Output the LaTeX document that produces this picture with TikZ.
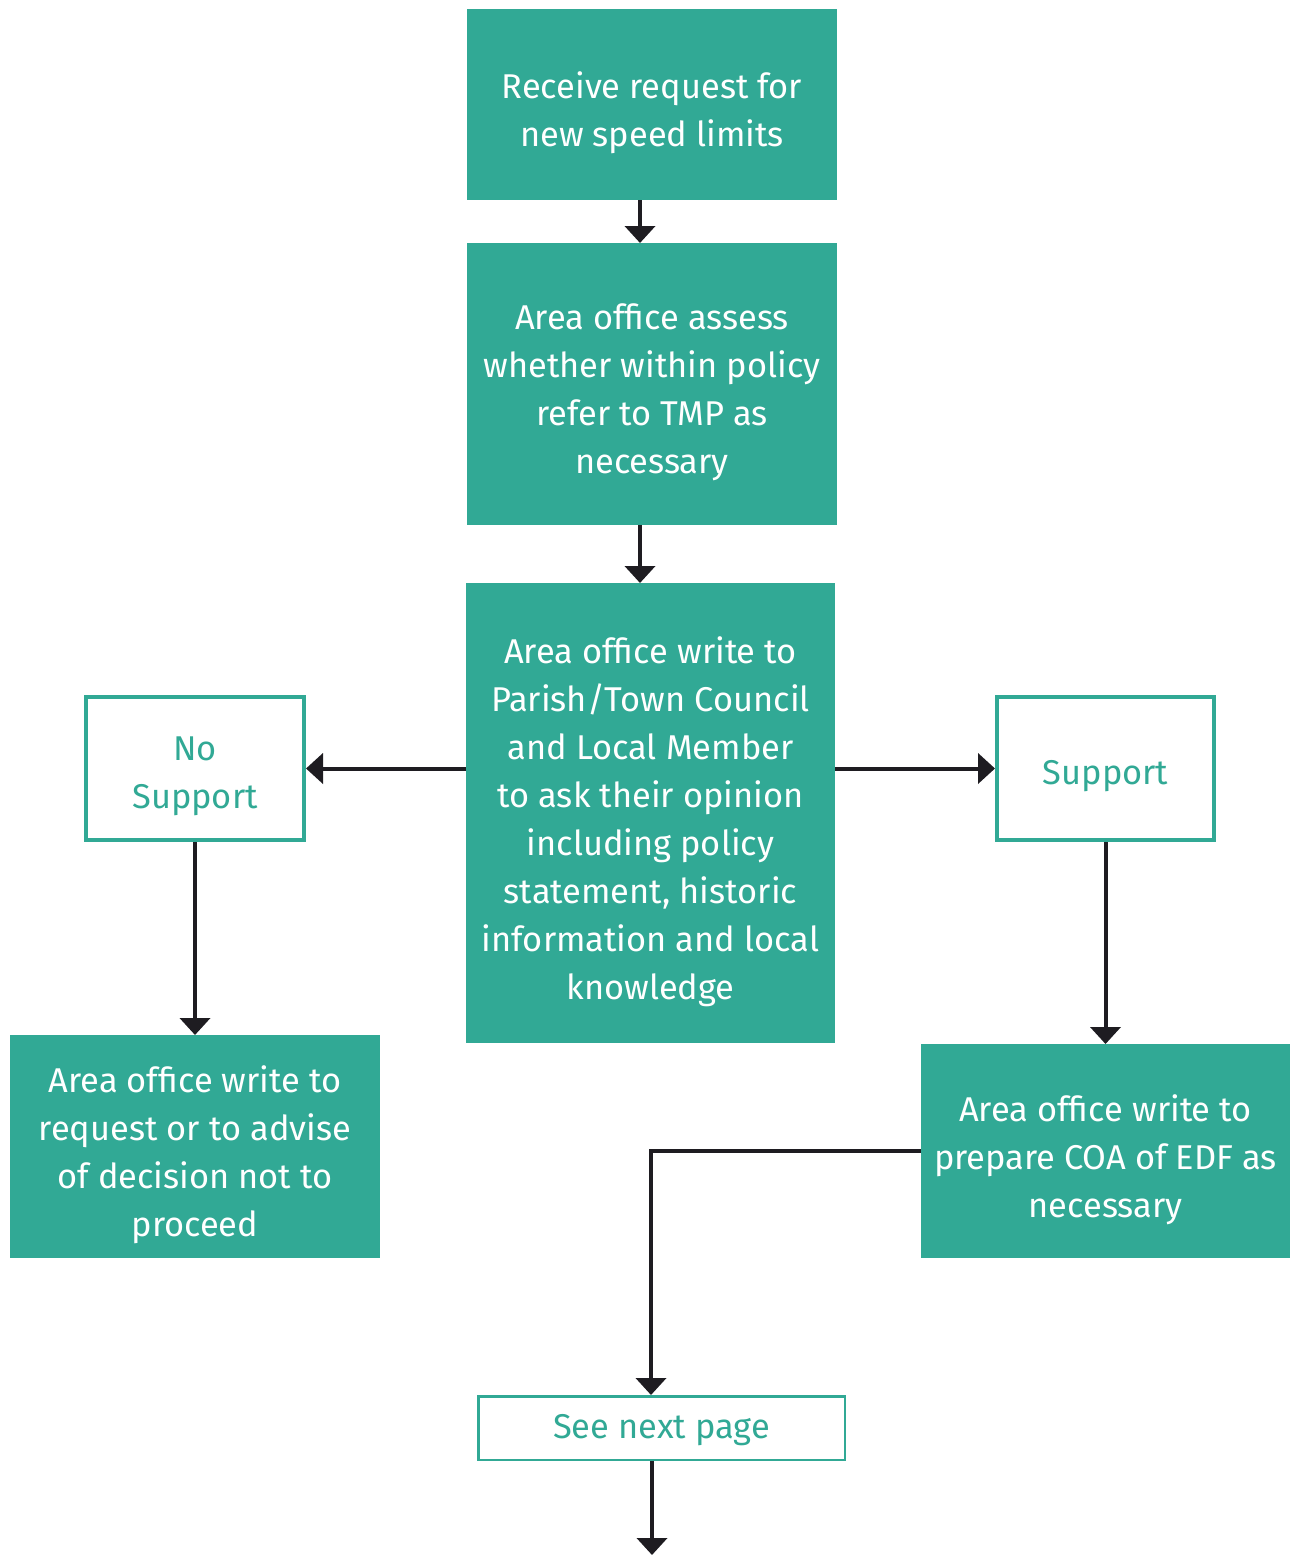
\documentclass[tikz,border=0pt]{standalone}
\usepackage{fontspec}
\setmainfont{Fira Sans}
\usetikzlibrary{arrows.meta}
\definecolor{teal}{HTML}{31A995}
\definecolor{ink}{HTML}{1E1C21}
\tikzset{
  txt/.style={font=\fontsize{34.4}{48}\selectfont, align=center, inner sep=0pt},
  solidbox/.style={fill=teal, draw=none, inner sep=0pt, outer sep=0pt},
  openbox/.style={draw=teal, line width=4pt, fill=white, inner sep=0pt, outer sep=2pt},
  thinbox/.style={draw=teal, line width=2.5pt, fill=white, inner sep=0pt, outer sep=1.25pt},
  wtext/.style={label={[txt, text=white, yshift=-8.5pt]center:#1}},
  ttext/.style={label={[txt, text=teal, yshift=-8pt]center:#1}},
  arr/.style={draw=ink, line width=4pt, -{Triangle[length=17pt,width=30pt]}}
}
\begin{document}
\begin{tikzpicture}[x=1pt,y=-1pt]
\useasboundingbox (0,0) rectangle (1290,1555);

% process steps
\node[solidbox, minimum width=370pt, minimum height=191pt,
  wtext={Receive request for\\new speed limits}] (recv) at (652,104.5) {};
\node[solidbox, minimum width=370pt, minimum height=282pt,
  wtext={Area office assess\\whether within policy\\refer to TMP as\\necessary}] (assess) at (652,384) {};
\node[solidbox, minimum width=369pt, minimum height=460pt,
  wtext={Area office write to\\Parish/Town Council\\and Local Member\\to ask their opinion\\including policy\\statement, historic\\information and local\\knowledge}] (write) at (650.5,813) {};

% outcomes
\node[openbox, minimum width=218pt, minimum height=143pt,
  ttext={No\\Support}] (nosup) at (195,768.5) {};
\node[openbox, minimum width=217pt, minimum height=143pt,
  ttext={Support}] (sup) at (1105.5,768.5) {};

\node[solidbox, minimum width=370pt, minimum height=223pt,
  wtext={Area office write to\\request or to advise\\of decision not to\\proceed}] (decline) at (195,1146.5) {};
\node[solidbox, minimum width=369pt, minimum height=214pt,
  wtext={Area office write to\\prepare COA of EDF as\\necessary}] (prepare) at (1105.5,1151) {};

\node[thinbox, minimum width=366.5pt, minimum height=63.5pt,
  label={[txt, text=teal, yshift=-2pt]center:See next page}] (next) at (661.5,1428) {};
\coordinate (out) at (652,1555);

% connectors
\draw[arr] ([xshift=-12pt]recv.south) -- ([xshift=-12pt]assess.north);
\draw[arr] ([xshift=-12pt]assess.south) -- ([xshift=-10.5pt]write.north);
\draw[arr] (write.west |- nosup.east) -- (nosup.east);
\draw[arr] (write.east |- sup.west) -- (sup.west);
\draw[arr] (nosup.south) -- (decline.north);
\draw[arr] (sup.south) -- (prepare.north);
\draw[arr] (prepare.west) -| ([xshift=-10.5pt]next.north);
\draw[arr] ([xshift=-9.5pt]next.south) -- (out);
\end{tikzpicture}
\end{document}
